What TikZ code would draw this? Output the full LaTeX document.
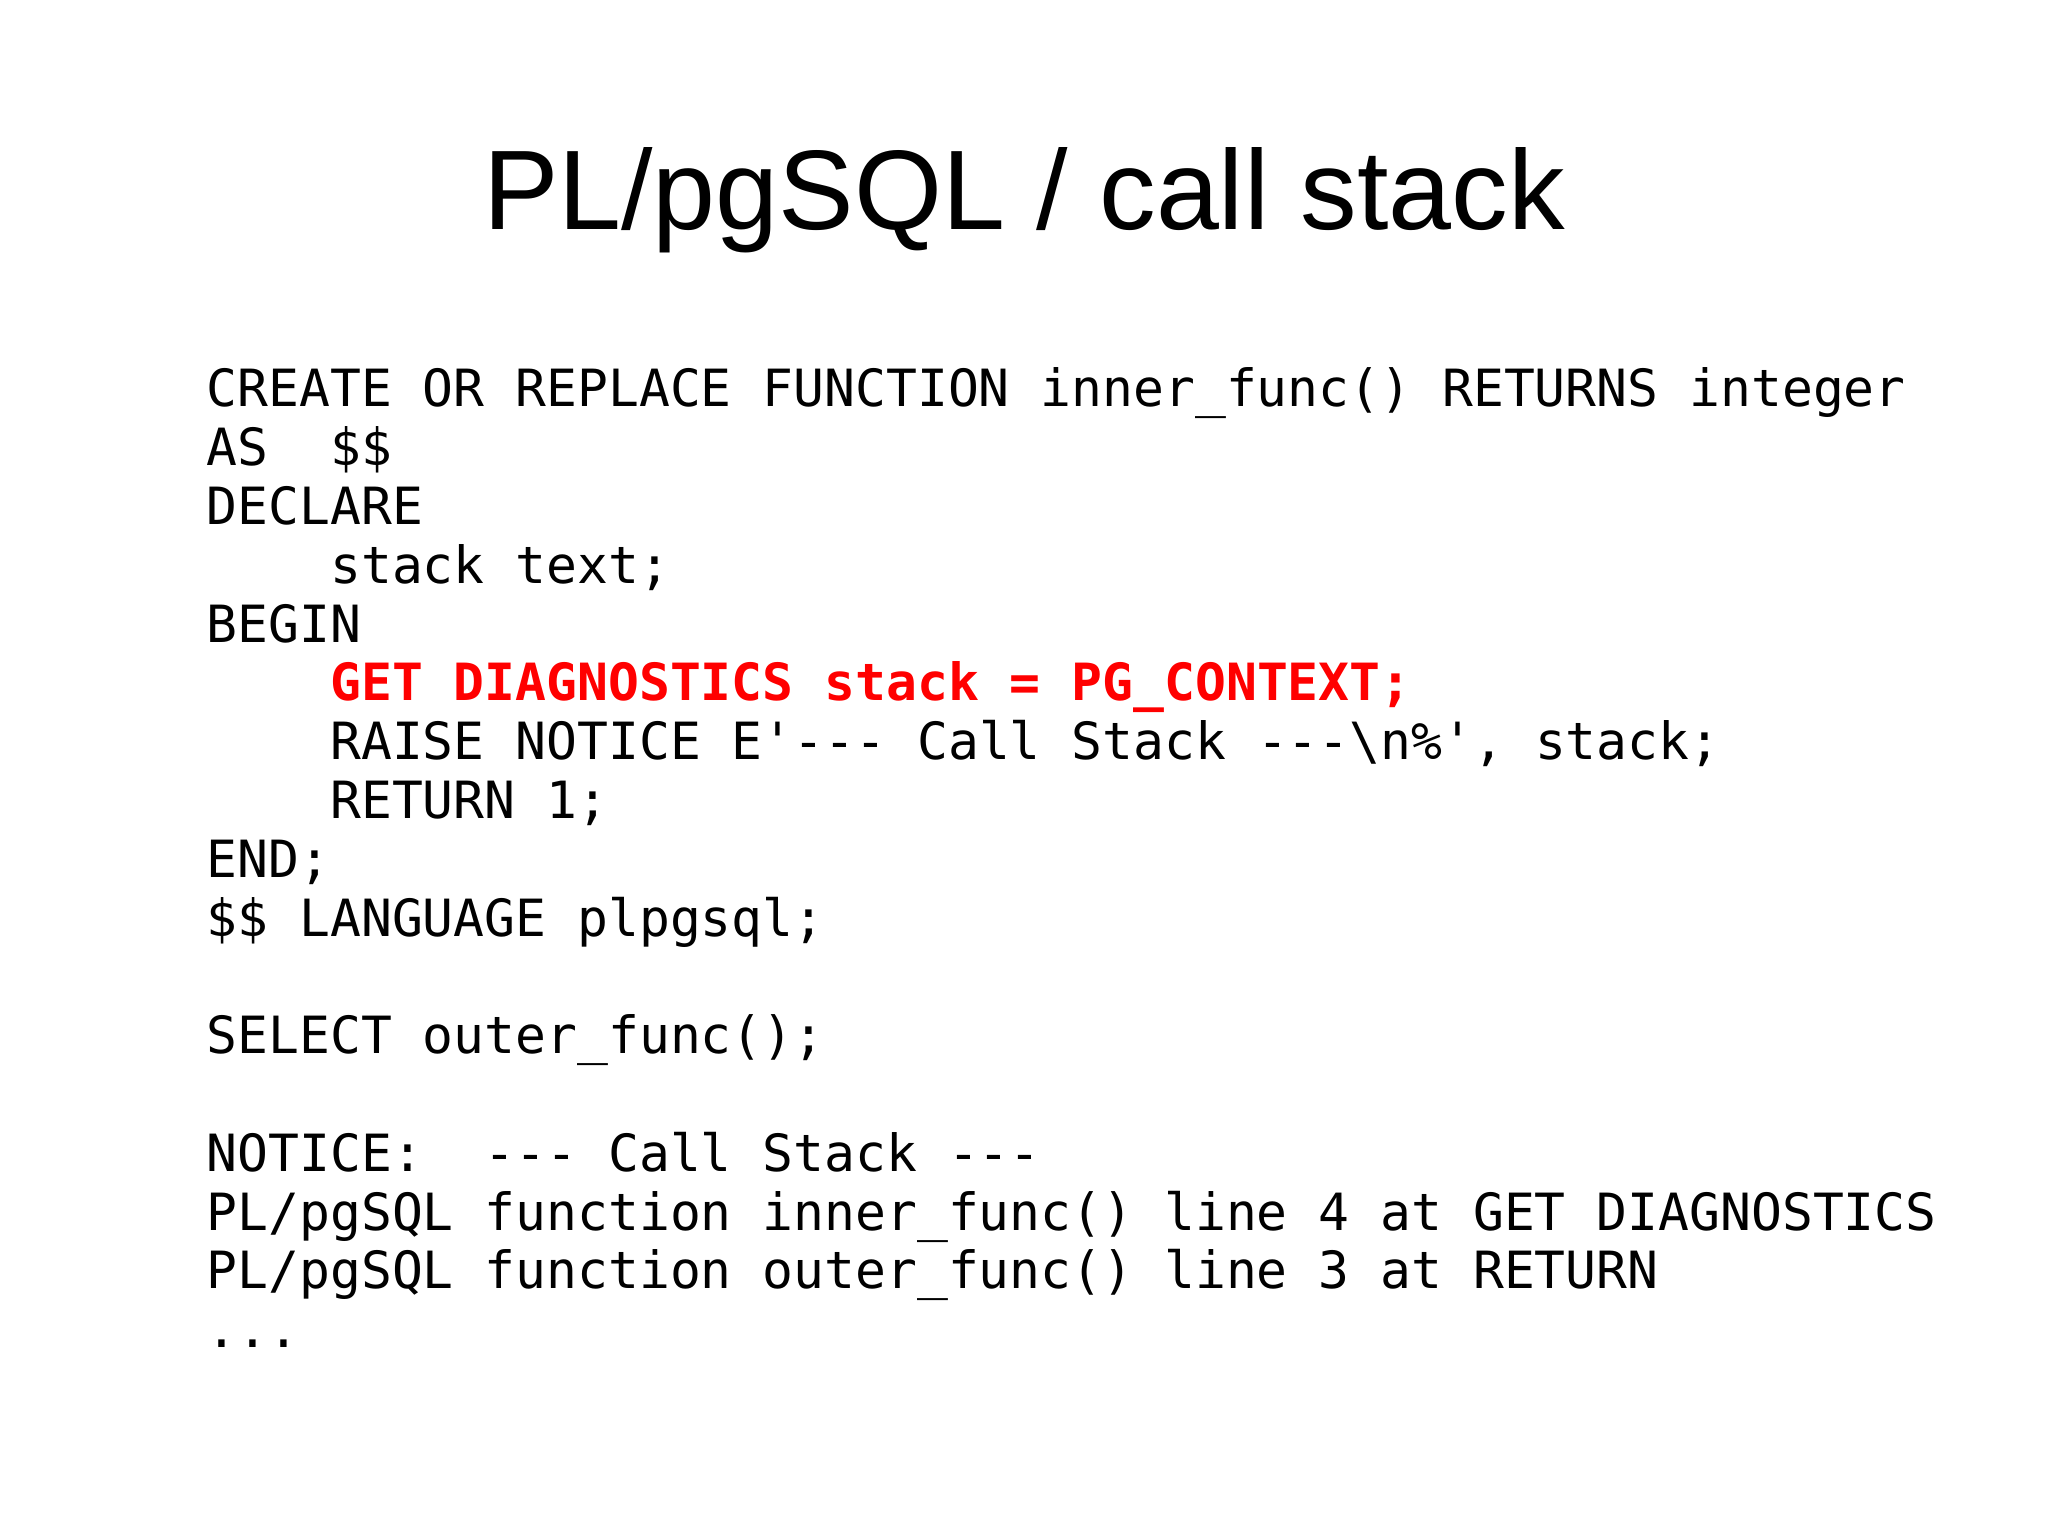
\documentclass[tikz,border=0pt]{standalone}
\usepackage{fontspec}
\setmainfont{Liberation Sans}
\setmonofont{DejaVu Sans Mono}
\begin{document}
\begin{tikzpicture}[x=1cm,y=1cm,
  code/.style={anchor=base west,inner sep=0pt,font=\fontsize{14.6pt}{17pt}\selectfont\ttfamily},
  hl/.style={code,text=red,font=\fontsize{14.6pt}{17pt}\selectfont\ttfamily\bfseries}]
\useasboundingbox (0,0) rectangle (20.48,15.35);
\fill[white] (0,0) rectangle (20.48,15.35);
\node[anchor=base,inner sep=0pt,font=\fontsize{32.2pt}{38pt}\selectfont] (title) at (10.24,13.05) {PL/pgSQL / call stack};
\def\L{2.06}\def\C{0.309}\def\T{11.28}\def\S{0.588}
\node[code] (l1) at (\L,\T) {CREATE OR REPLACE FUNCTION inner\_func() RETURNS integer};
\node[code] (l2) at (\L,\T-1*\S) {AS\ \ \$\$};
\node[code] (l3) at (\L,\T-2*\S) {DECLARE};
\node[code] (l4) at (\L+4*\C,\T-3*\S) {stack text;};
\node[code] (l5) at (\L,\T-4*\S) {BEGIN};
\node[hl] (l6) at (\L+4*\C,\T-5*\S) {GET DIAGNOSTICS stack = PG\_CONTEXT;};
\node[code] (l7) at (\L+4*\C,\T-6*\S) {RAISE NOTICE E'--- Call Stack ---\textbackslash n\%', stack;};
\node[code] (l8) at (\L+4*\C,\T-7*\S) {RETURN 1;};
\node[code] (l9) at (\L,\T-8*\S) {END;};
\node[code] (l10) at (\L,\T-9*\S) {\$\$ LANGUAGE plpgsql;};
\node[code] (l12) at (\L,\T-11*\S) {SELECT outer\_func();};
\node[code] (l14) at (\L,\T-13*\S) {NOTICE:\ \ --- Call Stack ---};
\node[code] (l15) at (\L,\T-14*\S) {PL/pgSQL function inner\_func() line 4 at GET DIAGNOSTICS};
\node[code] (l16) at (\L,\T-15*\S) {PL/pgSQL function outer\_func() line 3 at RETURN};
\node[code] (l17) at (\L,\T-16*\S) {...};
\end{tikzpicture}
\end{document}
